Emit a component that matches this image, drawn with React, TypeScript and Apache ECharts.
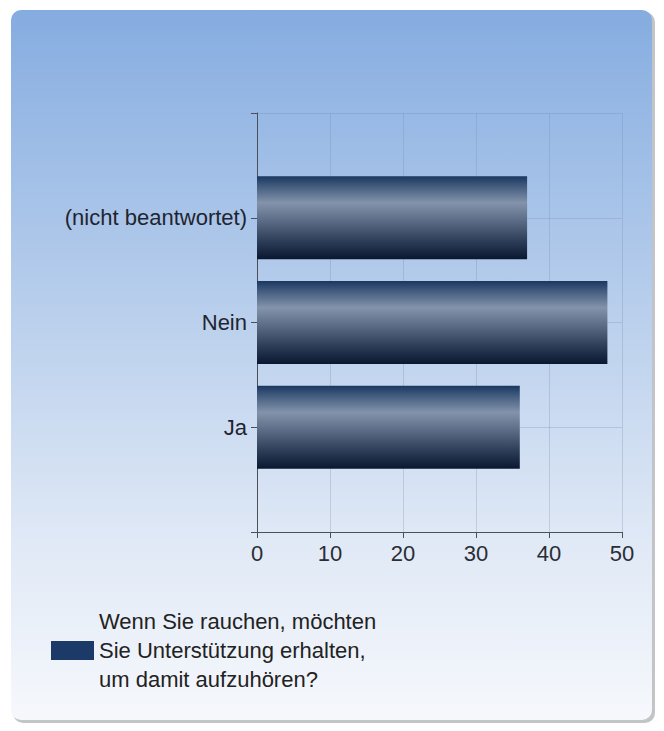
import React, { useEffect, useRef } from "react";
import * as echarts from "echarts";

// Answer categories, bottom to top; the empty entries pad the axis ends.
const categories = ["", "Ja", "Nein", "(nicht beantwortet)", ""];
const answerCounts = [null, 36, 48, 37, null];
const xTicks = [0, 10, 20, 30, 40, 50];
const questionLines = [
  "Wenn Sie rauchen, möchten",
  "Sie Unterstützung erhalten,",
  "um damit aufzuhören?",
];
const seriesName = questionLines.join(" ");

const FONT = "'Liberation Sans', Arial, sans-serif";

export default function App() {
  const ref = useRef<HTMLDivElement>(null);

  useEffect(() => {
    if (!ref.current) return;
    const chart = echarts.init(ref.current, undefined, { renderer: "svg" });

    const barGradient = new echarts.graphic.LinearGradient(0, 0, 0, 1, [
      { offset: 0, color: "#1b3760" },
      { offset: 0.1, color: "#3c5679" },
      { offset: 0.32, color: "#8393ab" },
      { offset: 0.52, color: "#5f6f89" },
      { offset: 0.8, color: "#2a3a55" },
      { offset: 1, color: "#0a1730" },
    ]);

    const panelGradient = new echarts.graphic.LinearGradient(0, 0, 0, 1, [
      { offset: 0, color: "#85ace0" },
      { offset: 0.15, color: "#98b9e5" },
      { offset: 0.45, color: "#bcd1ed" },
      { offset: 0.75, color: "#e0e9f6" },
      { offset: 1, color: "#f6f8fc" },
    ]);

    chart.setOption({
      animation: false,
      backgroundColor: "#ffffff",
      graphic: [
        {
          type: "rect",
          z: -10,
          silent: true,
          shape: { x: 13, y: 12, width: 642, height: 711, r: 10 },
          style: { fill: "#c2c4c8" },
        },
        {
          type: "rect",
          z: -9,
          silent: true,
          shape: { x: 11, y: 10, width: 641, height: 710, r: 10 },
          style: { fill: panelGradient },
        },
      ],
      grid: { left: 257, right: 42, top: 113, bottom: 199, containLabel: false },
      xAxis: {
        type: "value",
        min: 0,
        max: 50,
        interval: 10,
        axisLine: { show: true, lineStyle: { color: "#4a4f58", width: 1 } },
        axisTick: { show: true, length: 6, lineStyle: { color: "#4a4f58" } },
        axisLabel: {
          color: "#2a2d33",
          fontSize: 22,
          fontFamily: FONT,
          margin: 10,
          formatter: (v: number) => (xTicks.includes(v) ? String(v) : ""),
        },
        splitLine: { show: true, lineStyle: { color: "rgba(110,135,170,0.28)" } },
      },
      yAxis: {
        type: "category",
        data: categories,
        boundaryGap: false,
        axisLine: { show: true, lineStyle: { color: "#4a4f58", width: 1 } },
        axisTick: { show: true, length: 6, lineStyle: { color: "#4a4f58" } },
        axisLabel: {
          color: "#1f2530",
          fontSize: 22,
          fontFamily: FONT,
          margin: 10,
        },
        splitLine: { show: true, lineStyle: { color: "rgba(110,135,170,0.28)" } },
      },
      legend: {
        show: true,
        left: 51,
        top: 607,
        padding: 0,
        orient: "vertical",
        icon: "rect",
        itemWidth: 43,
        itemHeight: 19,
        data: [{ name: seriesName, itemStyle: { color: "#1c3a68" } }],
        formatter: () => questionLines.join("\n"),
        textStyle: {
          color: "#222222",
          fontSize: 22,
          fontFamily: FONT,
          lineHeight: 29,
          padding: [0, 0, 0, 0],
        },
      },
      series: [
        {
          name: seriesName,
          type: "bar",
          data: answerCounts,
          barWidth: 83,
          itemStyle: { color: barGradient },
        },
      ],
    });

    return () => chart.dispose();
  }, []);

  return (
    <div
      ref={ref}
      style={{ position: "fixed", left: 0, top: 0, width: 664, height: 731 }}
    />
  );
}
